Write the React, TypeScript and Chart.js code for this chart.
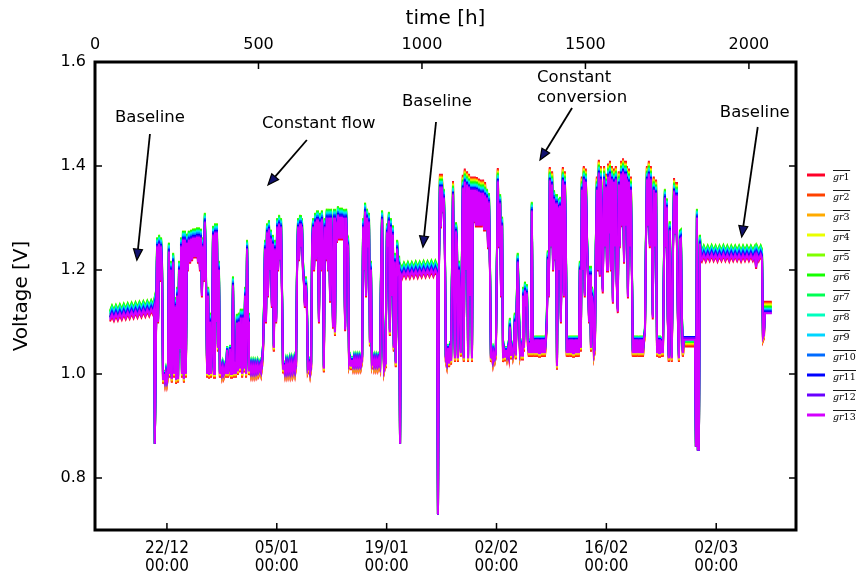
import { useEffect, useRef } from 'react';
import { Chart, registerables } from 'chart.js';

Chart.register(...registerables);

// ---------- series / legend ----------
const seriesNames = ['gr1', 'gr2', 'gr3', 'gr4', 'gr5', 'gr6', 'gr7', 'gr8', 'gr9', 'gr10', 'gr11', 'gr12', 'gr13'];
const seriesColors = ['#ff0029', '#ff4100', '#ffaa00', '#e9ff00', '#80ff00', '#15ff00', '#00ff54', '#00ffbe', '#00d6ff', '#006bff', '#0001ff', '#6a00ff', '#d400ff'];

// ---------- axes ----------
const hourTicks = [0, 500, 1000, 1500, 2000];
const hourMax = 2144;
const dateTickHours = [220, 556, 892, 1228, 1564, 1900];
const dateTickLabels = [['22/12', '00:00'], ['05/01', '00:00'], ['19/01', '00:00'], ['02/02', '00:00'], ['16/02', '00:00'], ['02/03', '00:00']];
const voltTicks = [0.8, 1.0, 1.2, 1.4, 1.6];
const voltMin = 0.7;
const voltMax = 1.6;

// ---------- gr13 (top-most trace) readings: [hour, volt] ----------
const baseline1: [number, number][] = [
  [46, 1.104], [52, 1.114], [58, 1.105], [64, 1.115], [70, 1.106], [76, 1.116], [82, 1.107], [88, 1.117], [94, 1.108], [100, 1.118], [106, 1.109], [112, 1.119],
  [118, 1.110], [124, 1.120], [130, 1.111], [136, 1.121], [142, 1.112], [148, 1.122], [154, 1.113], [160, 1.123], [166, 1.114], [172, 1.124], [178, 1.116], [181, 1.125],
];

const flowPeriodA: [number, number][] = [
  [183, 0.866], [187, 1.10], [190, 1.245], [193, 1.10], [196, 1.25], [199, 1.18], [202, 1.245], [205, 1.20], [208, 0.99], [211, 1.0], [214, 0.986], [217, 1.0],
  [220, 0.986], [223, 1.0], [226, 1.235], [229, 1.0], [232, 1.20], [235, 0.99], [239, 1.215], [242, 1.0], [245, 1.13], [248, 0.988], [251, 1.15], [254, 0.99],
  [257, 1.2], [260, 1.05], [263, 1.245], [266, 1.0], [269, 1.258], [272, 0.99], [275, 1.258], [278, 1.0], [281, 1.252], [284, 1.2], [287, 1.258], [291, 1.215],
  [294, 1.26], [297, 1.22], [300, 1.262], [303, 1.225], [306, 1.262], [309, 1.225], [312, 1.264], [315, 1.215], [318, 1.264], [321, 1.20], [324, 1.262], [327, 1.15],
  [330, 1.245], [333, 1.18], [336, 1.292], [339, 1.2], [343, 1.0], [346, 1.15], [349, 0.998], [352, 1.1], [355, 1.0], [358, 1.05], [361, 1.267], [364, 1.0],
  [367, 1.272], [370, 1.1], [373, 1.272], [376, 1.05], [379, 1.2], [382, 1.0],
  [385, 1.012], [388, 1.0], [391, 1.013], [394, 1.0], [398, 1.012], [401, 1.0], [404, 1.046], [407, 1.0], [410, 1.012], [413, 1.048], [416, 1.0], [419, 1.012],
  [422, 1.17], [425, 1.0], [428, 1.012], [431, 1.0], [434, 1.098], [437, 1.005], [440, 1.10], [443, 1.01], [446, 1.108], [450, 1.0], [453, 1.108], [456, 1.01],
  [459, 1.15], [462, 1.0], [465, 1.24], [468, 1.1], [471, 1.005], [474, 1.015], [477, 1.003], [480, 1.015], [483, 1.003], [486, 1.015], [489, 1.003], [492, 1.015],
  [495, 1.004], [498, 1.016], [501, 1.005], [505, 1.016], [508, 1.005], [511, 1.02],
];

const flowPeriodB: [number, number][] = [
  [514, 1.05], [517, 1.12], [520, 1.24], [523, 1.10], [526, 1.272], [529, 1.15], [532, 1.278], [535, 1.20], [538, 1.26], [541, 1.13], [544, 1.25], [547, 1.05],
  [550, 1.24], [554, 1.10], [557, 1.282], [560, 1.20], [563, 1.288], [566, 1.22], [569, 1.282], [572, 1.15], [575, 1.01],
  [578, 1.018], [581, 1.004], [584, 1.018], [587, 1.004], [590, 1.018], [593, 1.005], [596, 1.02], [599, 1.005], [602, 1.02], [605, 1.005], [609, 1.022], [612, 1.006],
  [615, 1.02], [618, 1.2], [621, 1.282], [624, 1.22], [627, 1.288], [630, 1.245], [633, 1.282], [636, 1.20], [639, 1.175], [642, 1.13], [645, 1.17], [648, 1.13],
  [651, 1.01], [655, 1.018], [658, 1.003], [661, 1.016],
  [664, 1.245], [667, 1.282], [670, 1.20], [673, 1.292], [676, 1.22], [679, 1.297], [682, 1.245], [685, 1.10], [688, 1.292], [691, 1.2], [694, 1.297], [697, 1.25],
  [700, 1.01], [703, 1.282], [706, 1.22], [709, 1.30], [713, 1.20], [716, 1.30], [719, 1.14], [722, 1.30], [725, 1.2], [728, 1.09], [731, 1.30], [734, 1.08],
  [737, 1.292], [740, 1.255], [743, 1.305], [746, 1.26], [749, 1.302], [752, 1.26], [755, 1.302], [758, 1.26], [761, 1.30], [765, 1.085], [768, 1.30], [771, 1.25],
  [774, 1.245], [777, 1.02],
  [780, 1.027], [783, 1.016], [786, 1.027], [789, 1.016], [792, 1.027], [795, 1.016], [798, 1.027], [801, 1.016], [804, 1.027], [807, 1.016], [810, 1.027], [813, 1.016],
  [817, 1.03], [820, 1.282], [823, 1.20], [826, 1.312], [829, 1.15], [832, 1.30], [835, 1.245], [838, 1.292], [841, 1.06], [844, 1.2], [847, 1.02],
  [850, 1.027], [853, 1.016], [856, 1.027], [859, 1.016], [862, 1.027], [865, 1.016], [868, 1.027], [872, 1.016],
  [875, 1.2], [878, 1.297], [881, 1.10], [884, 1.01], [887, 1.02], [890, 1.1], [893, 1.272], [896, 1.245], [899, 1.294], [902, 1.08], [905, 1.282], [908, 1.15],
  [911, 1.268], [914, 1.05], [917, 1.215], [920, 1.02], [924, 1.24], [927, 1.2], [930, 1.21], [933, 0.866], [936, 1.19],
];

const baseline2: [number, number][] = [
  [939, 1.186], [945, 1.196], [951, 1.187], [957, 1.197], [963, 1.187], [969, 1.197], [975, 1.188], [981, 1.198], [987, 1.188], [993, 1.198],
  [999, 1.189], [1005, 1.199], [1011, 1.189], [1017, 1.199], [1023, 1.19], [1029, 1.2], [1035, 1.19], [1041, 1.2], [1046, 1.192],
];

const conversionPeriodA: [number, number][] = [
  [1049, 0.73], [1052, 1.2], [1055, 1.359], [1058, 1.283], [1061, 1.359], [1064, 1.312], [1067, 1.338], [1070, 1.245], [1073, 1.03], [1076, 1.02],
  [1080, 1.05], [1083, 1.02], [1086, 1.055], [1089, 1.025], [1092, 1.20], [1095, 1.345], [1098, 1.15], [1101, 1.03], [1104, 1.274], [1107, 1.25],
  [1110, 1.03], [1113, 1.20], [1116, 1.15], [1119, 1.04], [1122, 1.2], [1125, 1.357], [1128, 1.03], [1131, 1.369], [1134, 1.2], [1138, 1.364],
  [1141, 1.03], [1144, 1.359], [1147, 1.15], [1150, 1.354], [1153, 1.03], [1156, 1.354], [1159, 1.293], [1162, 1.354], [1165, 1.285], [1168, 1.353],
  [1171, 1.285], [1174, 1.35], [1177, 1.285], [1180, 1.348], [1183, 1.285], [1187, 1.348], [1190, 1.277], [1193, 1.343], [1196, 1.277], [1199, 1.338],
  [1202, 1.245], [1205, 1.33], [1208, 1.20], [1211, 1.03], [1214, 1.04], [1217, 1.025], [1220, 1.04], [1223, 1.03], [1226, 1.04], [1229, 1.2],
  [1232, 1.37], [1235, 1.245], [1239, 1.328], [1242, 1.15], [1245, 1.285], [1248, 1.03], [1251, 1.045], [1254, 1.033], [1257, 1.046], [1260, 1.034],
  [1263, 1.046], [1266, 1.035], [1269, 1.09], [1272, 1.035], [1275, 1.048], [1278, 1.036], [1281, 1.048], [1284, 1.10], [1287, 1.035], [1290, 1.13],
  [1293, 1.215], [1297, 1.1], [1300, 1.04], [1303, 1.05], [1306, 1.035], [1309, 1.15], [1312, 1.05], [1315, 1.16], [1318, 1.13], [1321, 1.155],
  [1324, 1.06], [1327, 1.04], [1330, 1.06], [1333, 1.04], [1336, 1.313], [1339, 1.04], [1342, 1.066], [1346, 1.04], [1349, 1.066], [1352, 1.04],
  [1355, 1.066], [1358, 1.04], [1361, 1.066], [1364, 1.04], [1367, 1.066], [1370, 1.04], [1373, 1.066], [1376, 1.04], [1379, 1.066],
];

const conversionPeriodB: [number, number][] = [
  [1382, 1.1], [1385, 1.22], [1388, 1.15], [1391, 1.372], [1394, 1.245], [1398, 1.364], [1401, 1.20], [1404, 1.336], [1407, 1.22], [1410, 1.328],
  [1413, 1.015], [1416, 1.32], [1419, 1.2], [1422, 1.323], [1425, 1.1], [1428, 1.32], [1431, 1.372], [1434, 1.15], [1437, 1.364], [1440, 1.255],
  [1443, 1.04], [1446, 1.066], [1449, 1.04], [1453, 1.066], [1456, 1.04], [1459, 1.066], [1462, 1.04], [1465, 1.066], [1468, 1.04], [1471, 1.066],
  [1474, 1.04], [1477, 1.066], [1480, 1.04], [1483, 1.2], [1486, 1.05], [1489, 1.354], [1492, 1.20], [1495, 1.374], [1498, 1.15], [1501, 1.369],
  [1505, 1.245], [1508, 1.18], [1511, 1.10], [1514, 1.19], [1517, 1.05], [1520, 1.15], [1523, 1.133], [1526, 1.04], [1529, 1.05], [1532, 1.245],
  [1535, 1.354], [1538, 1.20], [1541, 1.386], [1544, 1.19], [1547, 1.374], [1550, 1.285], [1553, 1.158], [1557, 1.374], [1560, 1.245], [1563, 1.359],
  [1566, 1.20], [1569, 1.379], [1572, 1.27], [1575, 1.384], [1578, 1.20], [1581, 1.374], [1584, 1.138], [1587, 1.369], [1590, 1.245], [1593, 1.374],
  [1596, 1.17], [1599, 1.12], [1602, 1.364], [1605, 1.245], [1609, 1.384], [1612, 1.285], [1615, 1.389], [1618, 1.215], [1621, 1.384], [1624, 1.285],
  [1627, 1.374], [1630, 1.148], [1633, 1.369], [1636, 1.245], [1639, 1.354], [1642, 1.20], [1645, 1.04], [1648, 1.066], [1651, 1.04], [1654, 1.066],
  [1657, 1.04], [1660, 1.066], [1664, 1.04], [1667, 1.066], [1670, 1.04], [1673, 1.066], [1676, 1.04], [1679, 1.066], [1682, 1.08], [1685, 1.245],
  [1688, 1.374], [1691, 1.285], [1694, 1.384], [1697, 1.245], [1700, 1.374], [1703, 1.285], [1706, 1.108], [1709, 1.354], [1712, 1.245], [1716, 1.348],
  [1719, 1.04], [1722, 1.066], [1725, 1.04], [1728, 1.066], [1731, 1.04], [1734, 1.064], [1737, 1.04], [1740, 1.20], [1743, 1.338], [1746, 1.245],
  [1749, 1.32], [1752, 1.10], [1755, 1.03], [1758, 1.276], [1761, 1.15], [1764, 1.03], [1768, 1.245], [1771, 1.351], [1774, 1.27], [1777, 1.343],
  [1780, 1.245], [1783, 1.10], [1786, 1.03], [1789, 1.258], [1792, 1.26], [1795, 1.10], [1798, 1.04],
];

// short flat stretch where every trace sits at its own level (gr1..gr13)
const plateauHours = [1801, 1835];
const plateauLevels = [1.053, 1.055, 1.057, 1.059, 1.061, 1.062, 1.063, 1.065, 1.067, 1.069, 1.071, 1.069, 1.066];

const finalPeriod: [number, number][] = [
  [1838, 0.86], [1841, 1.30], [1844, 0.855], [1847, 0.855], [1850, 1.25], [1853, 1.222], [1856, 1.219], [1862, 1.229], [1868, 1.219], [1874, 1.229],
  [1880, 1.22], [1886, 1.23], [1892, 1.22], [1898, 1.229], [1904, 1.219], [1910, 1.229], [1916, 1.22], [1922, 1.23], [1928, 1.22], [1934, 1.229],
  [1940, 1.219], [1946, 1.229], [1952, 1.22], [1958, 1.229], [1964, 1.22], [1970, 1.229], [1976, 1.219], [1982, 1.229], [1988, 1.22], [1994, 1.229],
  [2000, 1.22], [2006, 1.229], [2012, 1.22], [2018, 1.228], [2022, 1.205], [2025, 1.228], [2030, 1.22], [2036, 1.229], [2040, 1.222], [2043, 1.07], [2046, 1.075],
];

const tailHours = [2049, 2070];
const tailLevels = [1.139, 1.137, 1.135, 1.133, 1.131, 1.129, 1.127, 1.125, 1.124, 1.122, 1.12, 1.118, 1.117];

// spread of the other traces around gr13, read per voltage level (gr1..gr13)
const levelLimits = [0.95, 1.085, 1.34];
const dipSpread = [0, 0, 0, 0, 0, 0, 0, 0, 0, 0, 0, 0, 0];
const lowSpread = [-0.007, -0.006, -0.004, -0.002, 0.008, 0.0075, 0.007, 0.006, 0.005, 0.004, 0.003, 0.0015, 0];
const midSpread = [-0.003, 0.006, 0.010, 0.014, 0.018, 0.017, 0.015, 0.013, 0.011, 0.008, 0.005, 0.0025, 0];
const peakSpread = [0.026, 0.024, 0.022, 0.020, 0.018, 0.016, 0.014, 0.012, 0.010, 0.007, 0.005, 0.0025, 0];

// ---------- annotations ----------
const noteTexts = [
  { text: 'Baseline', h: 61, v: 1.492 },
  { text: 'Constant flow', h: 511, v: 1.481 },
  { text: 'Baseline', h: 939, v: 1.523 },
  { text: 'Constant', h: 1352, v: 1.569 },
  { text: 'conversion', h: 1352, v: 1.531 },
  { text: 'Baseline', h: 1911, v: 1.502 },
];
const noteArrows = [
  { from: [168, 1.4615], to: [128, 1.219] },
  { from: [648, 1.45], to: [529, 1.3635] },
  { from: [1043, 1.4846], to: [1003, 1.244] },
  { from: [1459, 1.5115], to: [1361, 1.4115] },
  { from: [2027, 1.475], to: [1978, 1.2635] },
];

const FONT = 'DejaVu Sans';
const W = 856;
const H = 576;

function spreadFor(v: number, k: number) {
  if (v < levelLimits[0]) return dipSpread[k];
  if (v < levelLimits[1]) return lowSpread[k];
  if (v < levelLimits[2]) return midSpread[k];
  return peakSpread[k];
}

function buildSeries(k: number) {
  const shift = (pts: [number, number][]) => pts.map(([h, v]) => ({ x: h, y: v + spreadFor(v, k) }));
  return [
    ...shift(baseline1),
    ...shift(flowPeriodA),
    ...shift(flowPeriodB),
    ...shift(baseline2),
    ...shift(conversionPeriodA),
    ...shift(conversionPeriodB),
    ...plateauHours.map((h) => ({ x: h, y: plateauLevels[k] })),
    ...shift(finalPeriod),
    ...tailHours.map((h) => ({ x: h, y: tailLevels[k] })),
  ];
}

const decorPlugin = {
  id: 'decor',
  afterDraw(chart: any) {
    const { ctx, chartArea: a, scales } = chart;
    const xs = scales.x;
    const xt = scales.x2;
    const ys = scales.y;
    ctx.save();
    // inward ticks
    ctx.strokeStyle = '#000';
    ctx.lineWidth = 1.5;
    ctx.beginPath();
    for (const h of hourTicks) {
      const px = xt.getPixelForValue(h);
      ctx.moveTo(px, a.top);
      ctx.lineTo(px, a.top + 7);
    }
    for (const h of dateTickHours) {
      const px = xs.getPixelForValue(h);
      ctx.moveTo(px, a.bottom);
      ctx.lineTo(px, a.bottom - 7);
    }
    for (const v of voltTicks) {
      const py = ys.getPixelForValue(v);
      ctx.moveTo(a.left, py);
      ctx.lineTo(a.left + 7, py);
      ctx.moveTo(a.right, py);
      ctx.lineTo(a.right - 7, py);
    }
    ctx.stroke();
    // frame
    ctx.lineWidth = 3;
    ctx.strokeRect(a.left, a.top, a.right - a.left, a.bottom - a.top);

    // notes
    ctx.fillStyle = '#000';
    ctx.font = `16.5px ${FONT}`;
    ctx.textAlign = 'left';
    ctx.textBaseline = 'middle';
    for (const n of noteTexts) {
      ctx.fillText(n.text, xs.getPixelForValue(n.h), ys.getPixelForValue(n.v));
    }
    for (const ar of noteArrows) {
      const x0 = xs.getPixelForValue(ar.from[0]);
      const y0 = ys.getPixelForValue(ar.from[1]);
      const x1 = xs.getPixelForValue(ar.to[0]);
      const y1 = ys.getPixelForValue(ar.to[1]);
      const ang = Math.atan2(y1 - y0, x1 - x0);
      const L = 11;
      const HW = 4.5;
      const bx = x1 - L * Math.cos(ang);
      const by = y1 - L * Math.sin(ang);
      ctx.strokeStyle = '#000';
      ctx.lineWidth = 1.8;
      ctx.beginPath();
      ctx.moveTo(x0, y0);
      ctx.lineTo(bx, by);
      ctx.stroke();
      ctx.beginPath();
      ctx.moveTo(x1, y1);
      ctx.lineTo(bx + HW * Math.sin(ang), by - HW * Math.cos(ang));
      ctx.lineTo(bx - HW * Math.sin(ang), by + HW * Math.cos(ang));
      ctx.closePath();
      ctx.fillStyle = '#12126e';
      ctx.fill();
      ctx.lineWidth = 1.2;
      ctx.stroke();
    }

    // legend
    const lx = a.right + 11;
    for (let i = 0; i < seriesNames.length; i++) {
      const y = a.top + 113 + 20 * i;
      ctx.strokeStyle = seriesColors[i];
      ctx.lineWidth = 3;
      ctx.beginPath();
      ctx.moveTo(lx, y);
      ctx.lineTo(lx + 18, y);
      ctx.stroke();
      const name = seriesNames[i];
      const letters = name.replace(/[0-9]/g, '');
      const digits = name.replace(/[^0-9]/g, '');
      const tx = lx + 26;
      const base = y + 4.5;
      ctx.fillStyle = '#000';
      ctx.textBaseline = 'alphabetic';
      ctx.font = 'italic 9.5px DejaVu Serif';
      ctx.fillText(letters, tx, base);
      const w1 = ctx.measureText(letters).width;
      ctx.font = '9.5px DejaVu Serif';
      ctx.fillText(digits, tx + w1, base);
      const w2 = ctx.measureText(digits).width;
      ctx.strokeStyle = '#000';
      ctx.lineWidth = 0.9;
      ctx.beginPath();
      ctx.moveTo(tx, base - 9);
      ctx.lineTo(tx + w1 + w2 + 0.5, base - 9);
      ctx.stroke();
    }
    ctx.restore();
  },
};

export default function App() {
  const ref = useRef<HTMLCanvasElement | null>(null);
  useEffect(() => {
    if (!ref.current) return;
    const datasets = seriesNames.map((name, k) => ({
      label: name,
      data: buildSeries(k),
      borderColor: seriesColors[k],
      backgroundColor: seriesColors[k],
      borderWidth: 2,
      pointRadius: 0,
      tension: 0,
      fill: false,
      order: seriesNames.length - 1 - k,
    }));
    const chart = new Chart(ref.current, {
      type: 'line',
      data: { datasets },
      plugins: [decorPlugin],
      options: {
        animation: false,
        responsive: false,
        devicePixelRatio: 1,
        events: [],
        layout: { padding: { left: 0, right: 60, top: 0, bottom: 0 } },
        plugins: { legend: { display: false }, tooltip: { enabled: false } },
        scales: {
          x: {
            type: 'linear',
            position: 'bottom',
            min: 0,
            max: hourMax,
            grid: { display: false, drawTicks: false },
            border: { display: false },
            afterFit: (s: any) => { s.height = 46; },
            afterBuildTicks: (s: any) => { s.ticks = dateTickHours.map((v) => ({ value: v })); },
            ticks: {
              autoSkip: false,
              maxRotation: 0,
              padding: 10,
              color: '#000',
              font: { family: 'Liberation Sans Narrow, DejaVu Sans Condensed, DejaVu Sans', size: 17, lineHeight: 18 / 17 },
              callback: (_v: any, i: number) => dateTickLabels[i],
            },
          },
          x2: {
            type: 'linear',
            axis: 'x',
            position: 'top',
            min: 0,
            max: hourMax,
            grid: { display: false, drawTicks: false },
            border: { display: false },
            afterFit: (s: any) => { s.height = 62; },
            afterBuildTicks: (s: any) => { s.ticks = hourTicks.map((v) => ({ value: v })); },
            title: { display: true, text: 'time [h]', color: '#000', padding: { top: 9, bottom: 0 }, font: { family: FONT, size: 20, lineHeight: 1 } },
            ticks: {
              autoSkip: false,
              maxRotation: 0,
              padding: 8,
              color: '#000',
              font: { family: FONT, size: 16 },
              callback: (v: any) => String(v),
            },
          },
          y: {
            type: 'linear',
            position: 'left',
            min: voltMin,
            max: voltMax,
            grid: { display: false, drawTicks: false },
            border: { display: false },
            afterFit: (s: any) => { s.width = 95; },
            afterBuildTicks: (s: any) => { s.ticks = voltTicks.map((v) => ({ value: v })); },
            title: { display: true, text: 'Voltage [V]', color: '#000', padding: { top: 12, bottom: 0 }, font: { family: FONT, size: 20, lineHeight: 1 } },
            ticks: {
              padding: 9,
              color: '#000',
              font: { family: FONT, size: 16 },
              callback: (v: any) => Number(v).toFixed(1),
            },
          },
        },
      } as any,
    });
    return () => chart.destroy();
  }, []);
  return (
    <div style={{ position: 'absolute', left: 0, top: 0, width: W, height: H, overflow: 'hidden' }}>
      <canvas ref={ref} width={W} height={H} style={{ display: 'block' }} />
    </div>
  );
}
